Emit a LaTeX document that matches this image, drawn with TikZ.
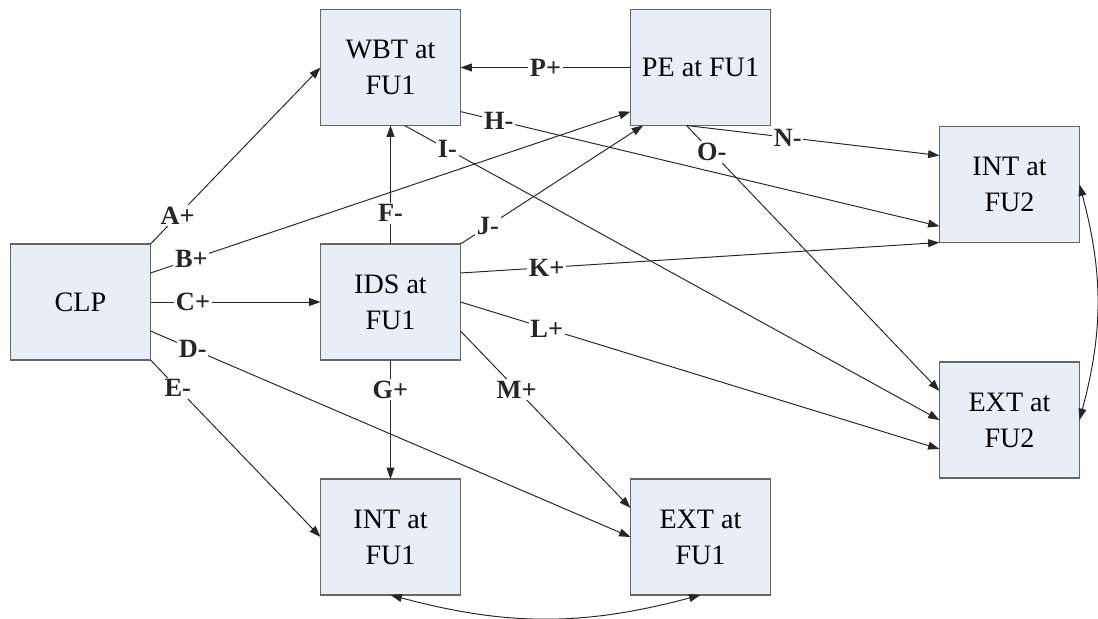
\documentclass[tikz,border=0pt]{standalone}
\usepackage{fontspec}
\setmainfont{Liberation Serif}
\usetikzlibrary{arrows.meta,calc}
\definecolor{blokblauw}{RGB}{232,238,247}
\tikzset{
  blok/.style={draw=black!60, line width=1pt, fill=blokblauw, minimum width=2.8cm,
    minimum height=2.32cm, align=center, inner sep=0pt, outer sep=0pt,
    font=\fontsize{16}{20.5}\selectfont},
  pijl/.style={-{Triangle[length=6.5pt,width=4.5pt]}, line width=0.55pt, black!85},
  tweepijl/.style={{Triangle[length=6.5pt,width=4.5pt]}-{Triangle[length=6.5pt,width=4.5pt]}, line width=0.55pt, black!85},
  lbl/.style={font=\bfseries\fontsize{15}{15}\selectfont, fill=white, inner sep=1pt}
}
\begin{document}
\begin{tikzpicture}
  \useasboundingbox (0,0) rectangle (21.96,-12.38);

  % Blokken
  \node[blok] (clp)  at (1.61,-6.04)   {CLP};
  \node[blok] (wbt)  at (7.81,-1.35)   {WBT at\\FU1};
  \node[blok] (pe)   at (14.01,-1.35)  {PE at FU1};
  \node[blok] (ids)  at (7.81,-6.04)   {IDS at\\FU1};
  \node[blok] (int1) at (7.81,-10.74)  {INT at\\FU1};
  \node[blok] (ext1) at (14.01,-10.74) {EXT at\\FU1};
  \node[blok] (int2) at (20.19,-3.69)  {INT at\\FU2};
  \node[blok] (ext2) at (20.19,-8.40)  {EXT at\\FU2};

  % Aansluitpunten op de randen
  \coordinate (clpB)  at ($(clp.north east)!0.25!(clp.south east)$);
  \coordinate (clpD)  at ($(clp.north east)!0.75!(clp.south east)$);
  \coordinate (wbtH)  at ($(wbt.north east)!0.88!(wbt.south east)$);
  \coordinate (wbtI)  at ($(wbt.south west)!0.6!(wbt.south east)$);
  \coordinate (peB)   at ($(pe.north west)!0.88!(pe.south west)$);
  \coordinate (peJ)   at ($(pe.south west)!0.09!(pe.south east)$);
  \coordinate (peNO)  at ($(pe.south west)!0.4!(pe.south east)$);
  \coordinate (idsK)  at ($(ids.north east)!0.25!(ids.south east)$);
  \coordinate (idsM)  at ($(ids.north east)!0.75!(ids.south east)$);
  \coordinate (int2N) at ($(int2.north west)!0.25!(int2.south west)$);
  \coordinate (int2H) at ($(int2.north west)!0.86!(int2.south west)$);
  \coordinate (ext2O) at ($(ext2.north west)!0.25!(ext2.south west)$);
  \coordinate (ext2L) at ($(ext2.north west)!0.75!(ext2.south west)$);
  \coordinate (ext1M) at ($(ext1.north west)!0.25!(ext1.south west)$);

  % Pijlen vanuit CLP
  \draw[pijl] (clp.north east) -- (wbt.west) node[lbl, pos=0.16] {A+};
  \draw[pijl] (clpB) -- (peB) node[lbl, pos=0.085] {B+};
  \draw[pijl] (clp.east) -- (ids.west) node[lbl, pos=0.25] {C+};
  \draw[pijl] (clpD) -- (ext1.west) node[lbl, pos=0.088] {D-};
  \draw[pijl] (clp.south east) -- (int1.west) node[lbl, pos=0.16] {E-};

  % Pijlen vanuit IDS
  \draw[pijl] (ids.north) -- (wbt.south) node[lbl, pos=0.26] {F-};
  \draw[pijl] (ids.south) -- (int1.north) node[lbl, pos=0.25] {G+};
  \draw[pijl] (ids.north east) -- (peJ) node[lbl, pos=0.15] {J-};
  \draw[pijl] (idsK) -- (int2.south west) node[lbl, pos=0.18] {K+};
  \draw[pijl] (ids.east) -- (ext2L) node[lbl, pos=0.18] {L+};
  \draw[pijl] (idsM) -- (ext1M) node[lbl, pos=0.33] {M+};

  % Pijlen vanuit WBT en PE
  \draw[pijl] (wbtH) -- (int2H) node[lbl, pos=0.08] {H-};
  \draw[pijl] (wbtI) -- (ext2.west) node[lbl, pos=0.08] {I-};
  \draw[pijl] (peNO) -- (int2N) node[lbl, pos=0.4] {N-};
  \draw[pijl] (peNO) -- (ext2O) node[lbl, pos=0.1] {O-};
  \draw[pijl] (pe.west) -- (wbt.east) node[lbl, pos=0.5] {P+};

  % Wisselwerking tussen INT en EXT
  \draw[tweepijl] (int2.east) to[bend left=15] (ext2.east);
  \draw[tweepijl] (int1.south) to[bend right=15] (ext1.south);
\end{tikzpicture}
\end{document}
